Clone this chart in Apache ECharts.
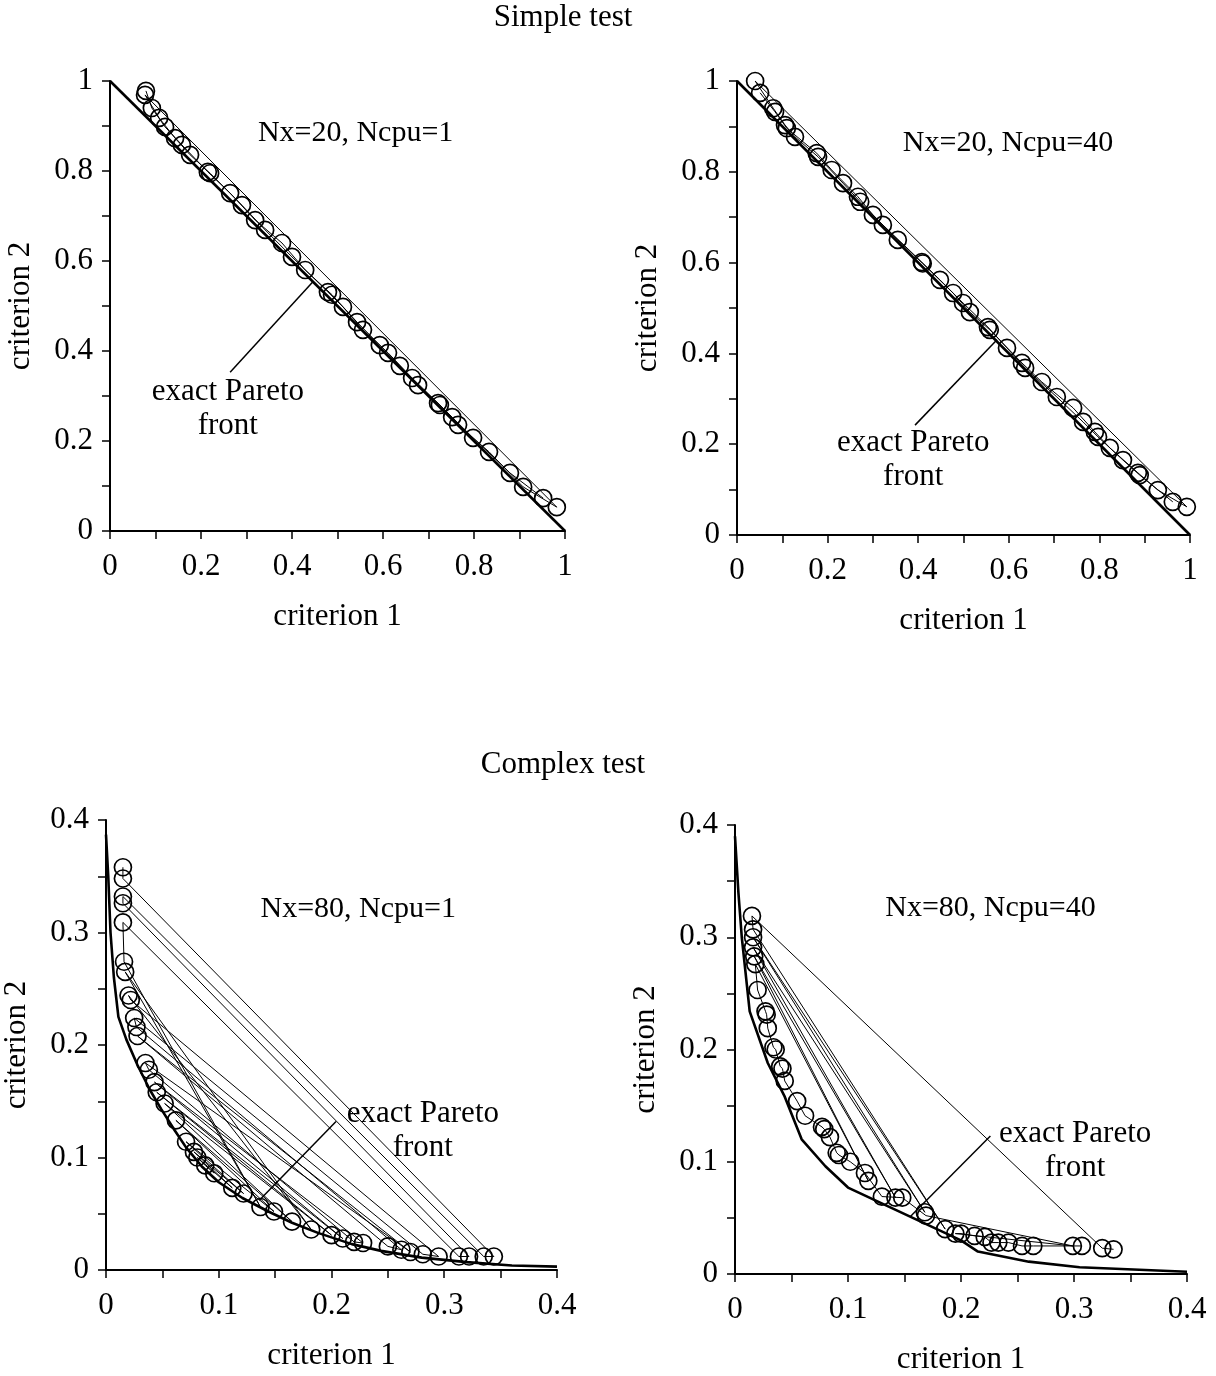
<!DOCTYPE html>
<html><head><meta charset="utf-8">
<script src="https://cdn.jsdelivr.net/npm/echarts@6/dist/echarts.min.js"></script>
<style>html,body{margin:0;padding:0;background:#fff}#c{width:1216px;height:1376px}</style>
</head><body><div id="c"></div>
<script>
const FONT = '"Liberation Serif","Times New Roman",serif';

// ---------- data ----------
const frontSimple = [[0,1],[1,0]];
const frontComplexL = [[0,0.387],[0.002,0.35],[0.004,0.3],[0.007,0.26],[0.011,0.225],[0.018,0.205],[0.028,0.182],[0.039,0.16],[0.049,0.143],[0.061,0.124],[0.071,0.109],[0.085,0.092],[0.1,0.078],[0.121,0.064],[0.144,0.052],[0.165,0.042],[0.188,0.033],[0.218,0.023],[0.244,0.017],[0.28,0.011],[0.32,0.007],[0.36,0.004],[0.4,0.003]];
const frontComplexR = [[0,0.39],[0.003,0.34],[0.006,0.3],[0.013,0.234],[0.029,0.188],[0.044,0.158],[0.059,0.12],[0.08,0.096],[0.1,0.077],[0.2,0.03],[0.215,0.02],[0.26,0.011],[0.305,0.006],[0.4,0.002]];

const pointsTL = [[0.077,0.969],[0.079,0.978],[0.092,0.94],[0.108,0.918],[0.121,0.898],[0.143,0.873],[0.158,0.858],[0.176,0.836],[0.215,0.798],[0.22,0.795],[0.264,0.751],[0.29,0.724],[0.319,0.691],[0.341,0.669],[0.378,0.64],[0.4,0.609],[0.429,0.58],[0.479,0.531],[0.488,0.525],[0.512,0.498],[0.543,0.464],[0.556,0.447],[0.593,0.413],[0.611,0.396],[0.637,0.367],[0.664,0.34],[0.677,0.324],[0.721,0.284],[0.725,0.28],[0.752,0.253],[0.765,0.236],[0.798,0.207],[0.833,0.176],[0.879,0.129],[0.908,0.098],[0.952,0.073],[0.982,0.053]];
const orderTL = [1,2,4,6,8,10,12,14,16,18,20,22,24,26,28,30,32,34,36,0,3,5,7,9,11,13,15,17,19,21,23,25,27,29,31,33,35];

const pointsTR = [[0.04,1.0],[0.051,0.974],[0.08,0.94],[0.084,0.932],[0.106,0.903],[0.11,0.896],[0.128,0.877],[0.176,0.841],[0.179,0.833],[0.209,0.804],[0.234,0.775],[0.267,0.745],[0.272,0.734],[0.3,0.705],[0.322,0.683],[0.355,0.65],[0.408,0.601],[0.41,0.598],[0.448,0.562],[0.477,0.533],[0.499,0.511],[0.514,0.491],[0.554,0.458],[0.558,0.452],[0.596,0.412],[0.629,0.379],[0.636,0.368],[0.673,0.337],[0.706,0.304],[0.742,0.28],[0.764,0.249],[0.79,0.227],[0.797,0.216],[0.823,0.192],[0.852,0.165],[0.885,0.137],[0.889,0.132],[0.929,0.099],[0.962,0.073],[0.993,0.062]];
const orderTR = [1,3,5,7,9,11,13,15,17,19,21,23,25,27,29,31,33,35,37,39,0,2,4,6,8,10,12,14,16,18,20,22,24,26,28,30,32,34,36,38];

const pointsBL = [[0.015,0.358],[0.015,0.348],[0.015,0.332],[0.015,0.326],[0.015,0.309],[0.016,0.274],[0.017,0.265],[0.02,0.244],[0.022,0.24],[0.025,0.224],[0.027,0.216],[0.028,0.208],[0.035,0.184],[0.038,0.178],[0.043,0.167],[0.045,0.158],[0.052,0.148],[0.062,0.133],[0.071,0.114],[0.078,0.105],[0.081,0.1],[0.088,0.093],[0.096,0.086],[0.112,0.073],[0.122,0.068],[0.137,0.056],[0.149,0.052],[0.165,0.043],[0.182,0.036],[0.2,0.031],[0.21,0.028],[0.22,0.025],[0.228,0.024],[0.25,0.021],[0.262,0.018],[0.27,0.016],[0.281,0.014],[0.295,0.012],[0.313,0.012],[0.322,0.012],[0.335,0.012],[0.344,0.012]];
const orderBL = [0,1,41,40,2,3,39,38,4,5,25,6,28,7,8,37,36,9,10,34,33,11,35,12,13,31,32,14,30,15,29,16,27,17,26,18,24,19,23,20,21,22];

const pointsBR = [[0.015,0.319],[0.016,0.307],[0.016,0.3],[0.016,0.291],[0.017,0.283],[0.018,0.276],[0.02,0.253],[0.027,0.234],[0.028,0.231],[0.029,0.219],[0.034,0.202],[0.036,0.2],[0.04,0.185],[0.042,0.183],[0.044,0.172],[0.055,0.154],[0.062,0.141],[0.077,0.131],[0.079,0.129],[0.084,0.122],[0.09,0.108],[0.092,0.106],[0.102,0.1],[0.115,0.09],[0.118,0.083],[0.13,0.069],[0.142,0.068],[0.148,0.068],[0.168,0.055],[0.169,0.052],[0.186,0.04],[0.195,0.036],[0.2,0.036],[0.212,0.034],[0.221,0.033],[0.227,0.028],[0.233,0.028],[0.242,0.028],[0.254,0.025],[0.264,0.025],[0.299,0.025],[0.307,0.025],[0.325,0.023],[0.335,0.022]];
const orderBR = [43,42,0,1,30,2,28,3,26,4,24,5,6,7,8,9,10,11,12,13,14,15,16,17,18,19,20,21,22,23,25,27,29,40,31,32,33,34,35,36,37,38,39,41];

const leaderTL = [[0.264,0.353],[0.446,0.554]];
const leaderTR = [[0.393,0.242],[0.574,0.43]];
const leaderBL = [[0.204,0.132],[0.136,0.062]];
const leaderBR = [[0.226,0.123],[0.155,0.051]];

const caseTexts = ['Nx=20, Ncpu=1','Nx=20, Ncpu=40','Nx=80, Ncpu=1','Nx=80, Ncpu=40'];
const casePos = [[0.325,0.884],[0.366,0.863],[0.137,0.321],[0.133,0.326]];
const paretoText = 'exact Pareto\nfront';
const paretoPos = [[0.259,0.271],[0.389,0.165],[0.281,0.124],[0.301,0.110]];

const sectionTitles = ['Simple test','Complex test'];
const axisNames = ['criterion 1','criterion 2'];
const simpleRange = [0,1,0.2];
const complexRange = [0,0.4,0.1];

// ---------- layout ----------
const grids = [
  {left:110, top:81, width:455, height:450},
  {left:737, top:81, width:453, height:454},
  {left:103, top:820, width:454, height:450},
  {left:735, top:825, width:452, height:450}
];
const panels = [
  {pts:pointsTL, order:orderTL, front:frontSimple, leader:leaderTL, range:simpleRange},
  {pts:pointsTR, order:orderTR, front:frontSimple, leader:leaderTR, range:simpleRange},
  {pts:pointsBL, order:orderBL, front:frontComplexL, leader:leaderBL, range:complexRange},
  {pts:pointsBR, order:orderBR, front:frontComplexR, leader:leaderBR, range:complexRange}
];

const txt = {fontFamily:FONT, color:'#000', textBorderWidth:0, fontWeight:'normal'};
function axis(kind, i, range){
  const isX = kind==='x';
  return {
    type:'value', gridIndex:i, min:range[0], max:range[1], interval:range[2],
    name: isX ? axisNames[0] : axisNames[1],
    nameLocation:'middle', nameGap: isX ? 70 : 74,
    nameTextStyle:Object.assign({fontSize:31}, txt),
    axisLine:{show:true, onZero:false, lineStyle:{color:'#000', width:2}},
    axisTick:{show:true, inside:false, length:8, lineStyle:{color:'#000', width:1.5}},
    minorTick:{show:true, splitNumber:2, length:8, lineStyle:{color:'#000', width:1.5}},
    splitLine:{show:false}, minorSplitLine:{show:false},
    axisLabel:Object.assign({fontSize:31, margin: isX ? 20 : 17, showMinLabel:true, showMaxLabel:true}, txt)
  };
}

const xAxis = [], yAxis = [], series = [];
panels.forEach((p, i) => {
  xAxis.push(axis('x', i, p.range));
  yAxis.push(axis('y', i, p.range));
  series.push({type:'line', xAxisIndex:i, yAxisIndex:i, data:p.order.map(k=>p.pts[k]), symbol:'none',
    lineStyle:{color:'#000', width:1}, silent:true, animation:false, z:2});
  series.push({type:'line', xAxisIndex:i, yAxisIndex:i, data:p.front, symbol:'none',
    lineStyle:{color:'#000', width:2.6}, silent:true, animation:false, z:3});
  series.push({type:'line', xAxisIndex:i, yAxisIndex:i, data:p.leader, symbol:'none',
    lineStyle:{color:'#000', width:1.5}, silent:true, animation:false, z:3});
  series.push({type:'scatter', xAxisIndex:i, yAxisIndex:i, data:p.pts, symbol:'circle', symbolSize:17,
    itemStyle:{color:'rgba(0,0,0,0)', borderColor:'#000', borderWidth:1.7, opacity:1}, silent:true, animation:false, z:4});
  series.push({type:'scatter', xAxisIndex:i, yAxisIndex:i, data:[casePos[i]], symbolSize:1,
    itemStyle:{color:'rgba(0,0,0,0)', opacity:1}, silent:true, animation:false, z:5,
    label:Object.assign({show:true, position:'inside', align:'left', verticalAlign:'middle', fontSize:30,
      formatter:()=>caseTexts[i]}, txt)});
  series.push({type:'scatter', xAxisIndex:i, yAxisIndex:i, data:[paretoPos[i]], symbolSize:1,
    itemStyle:{color:'rgba(0,0,0,0)', opacity:1}, silent:true, animation:false, z:5,
    label:Object.assign({show:true, position:'inside', align:'center', verticalAlign:'middle', fontSize:31, lineHeight:34,
      formatter:()=>paretoText}, txt)});
});

const chart = echarts.init(document.getElementById('c'), null, {renderer:'canvas'});
chart.setOption({
  backgroundColor:'#fff',
  animation:false,
  grid:grids,
  xAxis, yAxis, series,
  graphic:[
    {type:'text', x:563, y:18, style:{text:sectionTitles[0], fontSize:31, textAlign:'center', textVerticalAlign:'middle', fill:'#000', fontFamily:FONT}},
    {type:'text', x:563, y:765, style:{text:sectionTitles[1], fontSize:31, textAlign:'center', textVerticalAlign:'middle', fill:'#000', fontFamily:FONT}}
  ]
});
</script></body></html>
